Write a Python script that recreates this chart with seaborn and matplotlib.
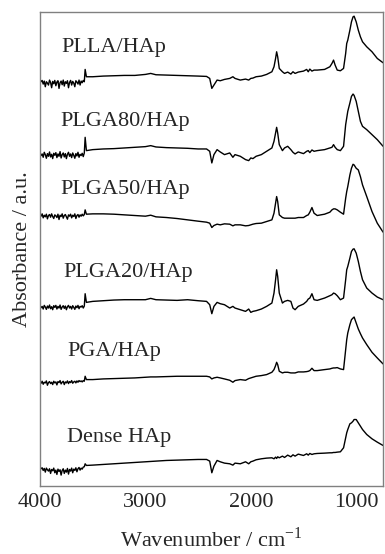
import numpy as np
import pandas as pd
import matplotlib
matplotlib.use('Agg')
import matplotlib.pyplot as plt
import seaborn as sns
from matplotlib.ticker import MultipleLocator

# eje x (cm-1): zona ruidosa 4000-3580 y resto del espectro
wn_ruido = [4000, 3990, 3980, 3970, 3960, 3950, 3940, 3930, 3920, 3910,
            3900, 3890, 3880, 3870, 3860, 3850, 3840, 3830, 3820, 3810,
            3800, 3790, 3780, 3770, 3760, 3750, 3740, 3730, 3720, 3710,
            3700, 3690, 3680, 3670, 3660, 3650, 3640, 3630, 3620, 3610,
            3600, 3590, 3580]
wn_resto = [3572, 3560, 3500, 3400, 3300, 3200, 3100, 3000, 2950, 2900,
            2800, 2700, 2600, 2500, 2420, 2390, 2370, 2350, 2320, 2290,
            2250, 2200, 2170, 2150, 2100, 2050, 2020, 2000, 1980, 1950,
            1900, 1850, 1800, 1780, 1765, 1755, 1745, 1730, 1700, 1680,
            1650, 1620, 1600, 1580, 1550, 1500, 1470, 1455, 1440, 1420,
            1400, 1370, 1300, 1250, 1230, 1215, 1200, 1180, 1150, 1120,
            1100, 1090, 1080, 1060, 1045, 1030, 1020, 1000, 980, 960,
            940, 900, 850, 800, 745]
wavenumber = wn_ruido + wn_resto

muestras = ['PLLA/HAp', 'PLGA80/HAp', 'PLGA50/HAp', 'PLGA20/HAp', 'PGA/HAp', 'Dense HAp']

plla_ruido = [0.47, 0.40, 0.44, 0.33, 0.42, 0.25, 0.40, 0.36, 0.30, 0.45,
              0.38, 0.22, 0.41, 0.34, 0.44, 0.28, 0.39, 0.43, 0.20, 0.37,
              0.42, 0.31, 0.45, 0.27, 0.40, 0.35, 0.43, 0.22, 0.38, 0.44,
              0.30, 0.41, 0.36, 0.25, 0.43, 0.39, 0.33, 0.45, 0.30, 0.42,
              0.37, 0.44, 0.40]
plla = [0.77, 0.55, 0.55, 0.57, 0.58, 0.59, 0.59, 0.62, 0.65, 0.61,
        0.60, 0.59, 0.58, 0.57, 0.56, 0.50, 0.20, 0.30, 0.45, 0.43,
        0.47, 0.50, 0.55, 0.50, 0.45, 0.48, 0.45, 0.50, 0.51, 0.55,
        0.57, 0.62, 0.70, 0.85, 1.10, 1.30, 1.15, 0.80, 0.70, 0.65,
        0.69, 0.63, 0.70, 0.65, 0.69, 0.72, 0.77, 0.70, 0.78, 0.72,
        0.75, 0.75, 0.77, 0.85, 0.95, 1.05, 0.90, 0.75, 0.73, 0.80,
        1.25, 1.55, 1.65, 1.95, 2.20, 2.35, 2.37, 2.20, 1.95, 1.75,
        1.60, 1.45, 1.30, 1.10, 0.97]

plga80_ruido = [0.60, 0.52, 0.57, 0.47, 0.62, 0.55, 0.44, 0.58, 0.50, 0.63,
                0.48, 0.56, 0.43, 0.59, 0.53, 0.61, 0.46, 0.57, 0.50, 0.64,
                0.45, 0.55, 0.60, 0.48, 0.58, 0.43, 0.56, 0.62, 0.50, 0.57,
                0.46, 0.60, 0.53, 0.44, 0.58, 0.51, 0.62, 0.47, 0.56, 0.52,
                0.59, 0.49, 0.60]
plga80 = [1.07, 0.67, 0.70, 0.72, 0.73, 0.75, 0.77, 0.79, 0.82, 0.78,
          0.76, 0.75, 0.74, 0.72, 0.72, 0.65, 0.30, 0.55, 0.70, 0.63,
          0.55, 0.60, 0.47, 0.55, 0.50, 0.40, 0.37, 0.45, 0.43, 0.50,
          0.55, 0.65, 0.75, 0.95, 1.20, 1.37, 1.20, 0.85, 0.67, 0.75,
          0.80, 0.70, 0.62, 0.57, 0.63, 0.58, 0.65, 0.67, 0.61, 0.69,
          0.65, 0.67, 0.70, 0.75, 0.77, 0.85, 0.77, 0.70, 0.67, 0.80,
          1.45, 1.65, 1.85, 2.10, 2.30, 2.37, 2.33, 2.15, 1.85, 1.55,
          1.40, 1.30, 1.15, 1.00, 0.80]

plga50_ruido = [0.76, 0.71, 0.78, 0.66, 0.74, 0.69, 0.77, 0.63, 0.73, 0.76,
                0.68, 0.78, 0.70, 0.64, 0.75, 0.72, 0.67, 0.77, 0.61, 0.74,
                0.70, 0.78, 0.65, 0.73, 0.76, 0.69, 0.62, 0.75, 0.71, 0.77,
                0.66, 0.74, 0.70, 0.78, 0.64, 0.73, 0.76, 0.68, 0.75, 0.71,
                0.77, 0.72, 0.76]
plga50 = [0.90, 0.77, 0.78, 0.78, 0.77, 0.75, 0.73, 0.71, 0.74, 0.69,
          0.67, 0.64, 0.60, 0.56, 0.53, 0.50, 0.37, 0.43, 0.47, 0.45,
          0.48, 0.47, 0.42, 0.45, 0.45, 0.42, 0.43, 0.45, 0.47, 0.49,
          0.50, 0.55, 0.60, 0.80, 1.10, 1.30, 1.15, 0.75, 0.67, 0.65,
          0.65, 0.65, 0.65, 0.65, 0.67, 0.67, 0.73, 0.75, 0.83, 0.97,
          0.80, 0.73, 0.77, 0.83, 0.90, 0.93, 0.93, 0.90, 0.83, 0.77,
          1.25, 1.45, 1.60, 1.95, 2.15, 2.27, 2.25, 2.15, 2.10, 1.90,
          1.65, 1.30, 0.85, 0.50, 0.23]

plga20_ruido = [0.57, 0.51, 0.55, 0.47, 0.58, 0.53, 0.46, 0.56, 0.50, 0.59,
                0.48, 0.54, 0.45, 0.57, 0.52, 0.58, 0.47, 0.55, 0.50, 0.59,
                0.46, 0.53, 0.57, 0.49, 0.56, 0.45, 0.54, 0.58, 0.50, 0.55,
                0.47, 0.57, 0.52, 0.46, 0.56, 0.51, 0.58, 0.48, 0.55, 0.53,
                0.57, 0.50, 0.56]
plga20 = [0.93, 0.67, 0.70, 0.72, 0.74, 0.75, 0.75, 0.75, 0.79, 0.75,
          0.74, 0.73, 0.75, 0.72, 0.70, 0.60, 0.33, 0.55, 0.67, 0.63,
          0.60, 0.50, 0.55, 0.50, 0.45, 0.40, 0.47, 0.37, 0.40, 0.42,
          0.47, 0.55, 0.65, 0.95, 1.35, 1.65, 1.45, 0.95, 0.65, 0.70,
          0.73, 0.70, 0.50, 0.45, 0.55, 0.62, 0.70, 0.77, 0.80, 0.93,
          0.75, 0.73, 0.80, 0.87, 0.90, 0.95, 0.93, 0.87, 0.75, 0.80,
          1.35, 1.65, 1.75, 2.00, 2.20, 2.27, 2.28, 2.15, 1.90, 1.60,
          1.35, 1.10, 0.95, 0.83, 0.75]

pga_ruido = [0.38, 0.34, 0.40, 0.31, 0.37, 0.35, 0.41, 0.28, 0.36, 0.39,
             0.33, 0.37, 0.30, 0.40, 0.35, 0.38, 0.29, 0.39, 0.36, 0.42,
             0.32, 0.37, 0.40, 0.30, 0.38, 0.35, 0.41, 0.33, 0.39, 0.36,
             0.42, 0.34, 0.38, 0.40, 0.35, 0.41, 0.37, 0.42, 0.39, 0.41,
             0.38, 0.42, 0.40]
pga = [0.55, 0.45, 0.45, 0.47, 0.48, 0.49, 0.50, 0.52, 0.53, 0.53,
       0.54, 0.55, 0.55, 0.55, 0.55, 0.53, 0.47, 0.50, 0.52, 0.50,
       0.47, 0.43, 0.37, 0.42, 0.45, 0.43, 0.48, 0.50, 0.52, 0.55,
       0.57, 0.60, 0.67, 0.75, 0.87, 0.97, 0.90, 0.70, 0.65, 0.67,
       0.67, 0.65, 0.65, 0.65, 0.68, 0.68, 0.69, 0.70, 0.72, 0.79,
       0.72, 0.72, 0.75, 0.77, 0.79, 0.80, 0.80, 0.81, 0.77, 0.75,
       1.35, 1.65, 1.85, 2.10, 2.25, 2.30, 2.33, 2.15, 1.97, 1.83,
       1.70, 1.50, 1.27, 1.10, 0.92]

dense_ruido = [0.67, 0.62, 0.65, 0.57, 0.63, 0.52, 0.64, 0.59, 0.55, 0.62,
               0.48, 0.60, 0.56, 0.64, 0.50, 0.58, 0.45, 0.61, 0.54, 0.59,
               0.43, 0.57, 0.62, 0.48, 0.58, 0.52, 0.63, 0.46, 0.60, 0.55,
               0.64, 0.50, 0.61, 0.57, 0.65, 0.53, 0.62, 0.66, 0.58, 0.64,
               0.61, 0.67, 0.68]
dense = [0.77, 0.72, 0.73, 0.75, 0.77, 0.79, 0.81, 0.83, 0.84, 0.85,
         0.87, 0.88, 0.89, 0.90, 0.90, 0.85, 0.50, 0.70, 0.87, 0.83,
         0.79, 0.77, 0.73, 0.79, 0.77, 0.83, 0.77, 0.83, 0.85, 0.89,
         0.92, 0.94, 0.95, 0.92, 0.97, 0.93, 0.98, 0.95, 1.00, 0.96,
         1.03, 0.98, 1.04, 1.00, 1.06, 1.02, 1.07, 1.03, 1.08, 1.05,
         1.07, 1.08, 1.09, 1.10, 1.10, 1.11, 1.11, 1.12, 1.13, 1.25,
         1.55, 1.70, 1.80, 1.97, 2.00, 2.05, 2.10, 2.10, 2.00, 1.90,
         1.80, 1.65, 1.52, 1.42, 1.32]

espectros = [plla_ruido + plla, plga80_ruido + plga80, plga50_ruido + plga50,
             plga20_ruido + plga20, pga_ruido + pga, dense_ruido + dense]
desplazamiento = [11.76, 9.42, 7.41, 4.86, 2.76, -0.09]

filas = []
for nombre, valores, d in zip(muestras, espectros, desplazamiento):
    filas.append(pd.DataFrame({'wavenumber': wavenumber,
                               'absorbance': np.array(valores) + d,
                               'sample': nombre}))
data = pd.concat(filas, ignore_index=True)

sns.set_style('white')
plt.rcParams['font.family'] = ['Liberation Serif', 'DejaVu Serif']
plt.rcParams['mathtext.fontset'] = 'custom'
plt.rcParams['mathtext.rm'] = 'Liberation Serif'

fig, ax = plt.subplots(figsize=(3.85, 5.54), dpi=100)
fig.subplots_adjust(left=0.104, right=0.995, top=0.978, bottom=0.122)

sns.lineplot(data=data, x='wavenumber', y='absorbance', hue='sample',
             palette=['black'] * 6, estimator=None, legend=False,
             linewidth=1.0, ax=ax)

# etiquetas de cada muestra
pos_texto = [(3793, 13.2), (3811, 10.98), (3811, 8.91), (3783, 6.42), (3745, 4.05), (3745, 1.47)]
for nombre, (x, y) in zip(muestras, pos_texto):
    ax.text(x, y, nombre, fontsize=16, va='center', ha='left')

ax.set_xlim(4000, 745)
ax.set_ylim(0, 14.25)
ax.set_yticks([])
ax.xaxis.set_major_locator(MultipleLocator(1000))
ax.xaxis.set_minor_locator(MultipleLocator(500))
ax.tick_params(axis='x', which='major', direction='in', length=7, width=0.8,
               labelsize=16, pad=5, color='#707070')
ax.tick_params(axis='x', which='minor', direction='in', length=4, width=0.8,
               color='#707070')
for s in ax.spines.values():
    s.set_color('#808080')
    s.set_linewidth(1.0)

ax.set_xlabel('Wavenumber / cm$^{\\mathrm{-1}}$', fontsize=16, labelpad=11)
ax.set_ylabel('Absorbance / a.u.', fontsize=16, labelpad=6)

plt.savefig('out.png', dpi=100)
